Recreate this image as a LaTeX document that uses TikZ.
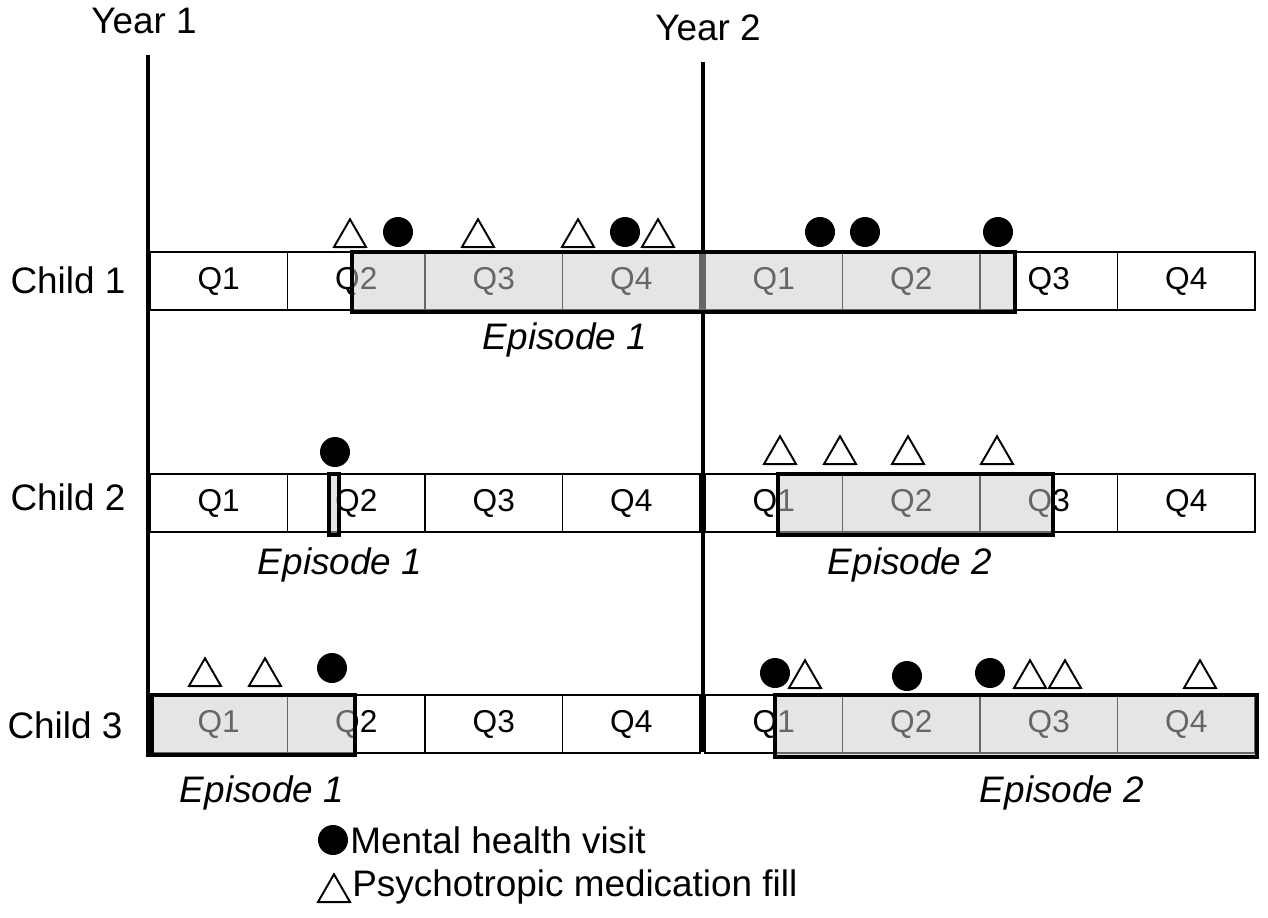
\documentclass[tikz,border=0pt]{standalone}
\usepackage{fontspec}
\setmainfont{Liberation Sans}
\usetikzlibrary{shapes.geometric,positioning,shadows}

\begin{document}
\begin{tikzpicture}[x=0.02cm,y=-0.02cm,
  quarter/.style={draw,line width=0.8pt,minimum width=2.75cm,minimum height=1.16cm,inner sep=0pt,outer sep=0pt,anchor=north west,font=\fontsize{18}{21}\selectfont},
  episode/.style={draw,line width=2.3pt,fill=black!20,fill opacity=0.5,draw opacity=1,inner sep=0pt,outer sep=0pt,anchor=north west},
  visit/.style={circle,fill=black,inner sep=0pt,outer sep=0pt,minimum size=0.6cm,anchor=south},
  medfill/.style={regular polygon,regular polygon sides=3,draw,fill=white,line width=1.1pt,inner sep=0pt,outer sep=0pt,minimum size=0.74cm,anchor=south,
    drop shadow={shadow xshift=0pt,shadow yshift=-1.2pt,opacity=0.25}},
  label text/.style={font=\fontsize{21}{25}\selectfont},
  episode text/.style={font=\fontsize{21}{25}\selectfont\itshape},
  year line/.style={line width=2pt}]
  \useasboundingbox (0,0) rectangle (1268,917);

  % years
  \node[label text] (yr1) at (144,21) {Year 1};
  \node[label text] (yr2) at (708,28) {Year 2};
  \coordinate (yr1top) at (148,55);
  \coordinate (yr1bot) at (148,757);
  \coordinate (yr2top) at (703,62);
  \coordinate (yr2bot) at (703,752);

  % children
  \node[label text] (ch1) at (68,280) {Child 1};
  \node[label text] (ch2) at (68,497) {Child 2};
  \node[label text] (ch3) at (65,725) {Child 3};

  % quarters
  \foreach \row/\y in {1/252,2/474,3/695}{
    \foreach \q in {1,...,4}{
      \node[quarter] (c\row a\q) at ({150+(\q-1)*137.5},\y) {Q\q};
      \node[quarter] (c\row b\q) at ({705+(\q-1)*137.5},\y) {Q\q};
    }
  }

  \draw[year line] (yr1top) -- (yr1bot);
  \draw[year line] (yr2top) -- (yr2bot);

  % episodes
  \node[episode,minimum width=13.26cm,minimum height=1.2cm] (ep11) at (352,252) {};
  \node[episode,minimum width=0.2cm,minimum height=1.22cm,line width=1.8pt] (ep21) at (329,474) {};
  \node[episode,minimum width=5.5cm,minimum height=1.22cm] (ep22) at (778,474) {};
  \node[episode,minimum width=4.06cm,minimum height=1.2cm] (ep31) at (152,695) {};
  \node[episode,minimum width=9.64cm,minimum height=1.24cm] (ep32) at (775,695) {};

  \node[episode text] (lab11) at (565,340) {Episode 1};
  \node[episode text] (lab21) at (340,565) {Episode 1};
  \node[episode text] (lab22) at (910,565) {Episode 2};
  \node[episode text] (lab31) at (262,793) {Episode 1};
  \node[episode text] (lab32) at (1062,793) {Episode 2};

  % visits and fills
  \foreach \x [count=\i] in {398,625,820,865,998}
    \node[visit] (v1\i) at (\x,247) {};
  \foreach \x [count=\i] in {350,478,578,658}
    \node[medfill] (f1\i) at (\x,247) {};

  \node[visit] (v21) at (335,467) {};
  \foreach \x [count=\i] in {780,840,908,997}
    \node[medfill] (f2\i) at (\x,464) {};

  \node[visit] (v31) at (332,683) {};
  \foreach \x/\b [count=\i] in {775/688,907/691,990/688}
    \node[visit] (v3\i) at (\x,\b) {};
  \foreach \x/\b [count=\i] in {205/686,265/686,805/688,1030/688,1065/688,1200/688}
    \node[medfill] (f3\i) at (\x,\b) {};

  % legend
  \node[visit] (legv) at (333,855) {};
  \node[label text,inner sep=0pt,anchor=west,right=0.04cm of legv] (legvt) {Mental health visit};
  \node[medfill] (legf) at (334,902) {};
  \node[label text,inner sep=0pt,anchor=west] (legft) at (352,887) {Psychotropic medication fill};
\end{tikzpicture}
\end{document}
